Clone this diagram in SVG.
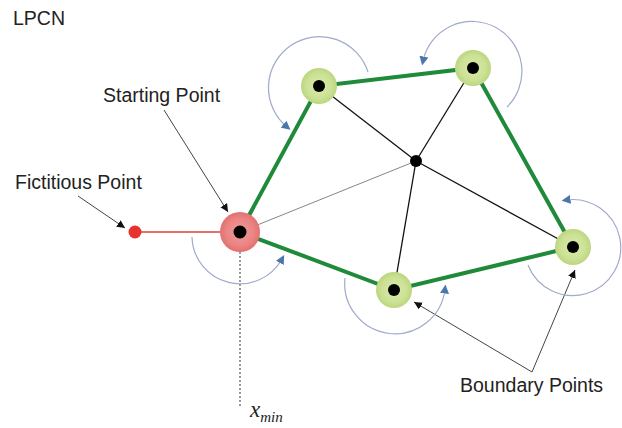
<svg xmlns="http://www.w3.org/2000/svg" width="622" height="428" viewBox="0 0 622 428">
<defs>
<radialGradient id="gg" cx="50%" cy="50%" r="50%">
<stop offset="0" stop-color="#dcebaa"/><stop offset="0.7" stop-color="#cbe195"/><stop offset="1" stop-color="#bcd67e"/>
</radialGradient>
<radialGradient id="rg" cx="50%" cy="50%" r="50%">
<stop offset="0" stop-color="#f09a9a"/><stop offset="0.7" stop-color="#eb8484"/><stop offset="1" stop-color="#e27070"/>
</radialGradient>
<marker id="ah" viewBox="0 0 10 10" refX="10" refY="5" markerWidth="8" markerHeight="8" markerUnits="userSpaceOnUse" orient="auto"><path d="M0,0 L10,5 L0,10 z" fill="#111"/></marker>
<marker id="bh" viewBox="0 0 10 10" refX="5" refY="5" markerWidth="9" markerHeight="9" markerUnits="userSpaceOnUse" orient="auto"><path d="M0,0 L10,5 L0,10 z" fill="#4a78ad"/></marker>
</defs>
<style>
.lbl{font-family:"Liberation Sans",Arial,sans-serif;font-size:19.5px;fill:#222}
.green{stroke:#1f8a3a;stroke-width:4;fill:none;stroke-linecap:round}
.thin{stroke:#111;stroke-width:1.3;fill:none}
.arc{stroke:#a0aacb;stroke-width:1.2;fill:none;marker-end:url(#bh)}
.ptr{stroke:#444;stroke-width:1;fill:none;marker-end:url(#ah)}
.halo{fill:url(#gg)}
.dot{fill:#000}
</style>
<rect width="622" height="428" fill="#fff"/>
<text class="lbl" x="13" y="25" font-size="18.5">LPCN</text>

<g id="connectors">
<line x1="135" y1="232" x2="240" y2="232" stroke="#e0403a" stroke-width="1.5"/>
<line x1="240" y1="232" x2="416" y2="161" stroke="#666" stroke-width="0.8"/>
<line class="thin" x1="319" y1="86" x2="416" y2="161"/>
<line class="thin" x1="473" y1="68" x2="416" y2="161"/>
<line class="thin" x1="573" y1="247" x2="416" y2="161"/>
<line class="thin" x1="394" y1="290" x2="416" y2="161"/>
<polyline class="green" points="240,232 319,86 473,68 573,247 394,290 240,232"/>
<line x1="240" y1="232" x2="240" y2="408" stroke="#333" stroke-width="1" stroke-dasharray="2,2"/>
<line class="ptr" x1="164" y1="110" x2="228" y2="212"/>
<line class="ptr" x1="78" y1="196" x2="125" y2="228"/>
<line class="ptr" x1="532" y1="372" x2="414" y2="302"/>
<line class="ptr" x1="532" y1="372" x2="575" y2="270"/>
<path class="arc" d="M 192 237 A 48 48 0 0 0 282 259"/>
<path class="arc" d="M 368 72 A 51 51 0 1 0 287 127"/>
<path class="arc" d="M 507 107 A 50 50 0 1 0 423 61"/>
<path class="arc" d="M 528 265 A 48 48 0 1 0 566 200"/>
<path class="arc" d="M 345 278 A 50 50 0 0 0 445 289"/>
</g>

<g id="fictitious"><circle cx="135" cy="232" r="6.5" fill="#e8322e"/></g>
<g id="start"><circle cx="240" cy="232" r="20" fill="url(#rg)"/><circle class="dot" cx="240" cy="232" r="6.5"/></g>
<g id="nodeA"><circle class="halo" cx="319" cy="86" r="18"/><circle class="dot" cx="319" cy="86" r="6"/></g>
<g id="nodeB"><circle class="halo" cx="473" cy="68" r="18"/><circle class="dot" cx="473" cy="68" r="6"/></g>
<g id="nodeC"><circle class="dot" cx="416" cy="161" r="6"/></g>
<g id="nodeD"><circle class="halo" cx="573" cy="247" r="18"/><circle class="dot" cx="573" cy="247" r="6"/></g>
<g id="nodeE"><circle class="halo" cx="394" cy="290" r="18"/><circle class="dot" cx="394" cy="290" r="6"/></g>

<text class="lbl" x="103" y="102">Starting Point</text>
<text class="lbl" x="15" y="189">Fictitious Point</text>
<text class="lbl" x="460" y="392">Boundary Points</text>
<text x="250" y="417" font-family="'Liberation Serif','Times New Roman',serif" font-style="italic" font-size="23" fill="#222">x<tspan font-size="15" dy="5">min</tspan></text>
</svg>
